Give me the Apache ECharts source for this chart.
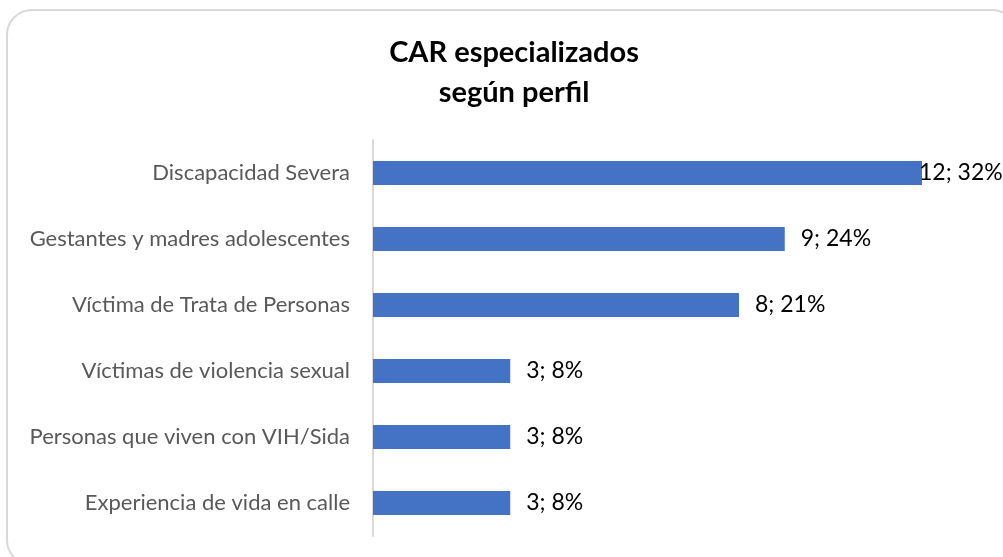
<!DOCTYPE html>
<html>
<head>
<meta charset="utf-8">
<script src="https://cdn.jsdelivr.net/npm/echarts@6/dist/echarts.min.js"></script>
<style>
  html, body { margin: 0; padding: 0; background: #fff; }
  #main { width: 1003px; height: 557px; }
</style>
</head>
<body>
<div id="main"></div>
<script>
var categories = [
    "Discapacidad Severa",
    "Gestantes y madres adolescentes",
    "Víctima de Trata de Personas",
    "Víctimas de violencia sexual",
    "Personas que viven con VIH/Sida",
    "Experiencia de vida en calle"
];
var counts = [12, 9, 8, 3, 3, 3];
var percents = [32, 24, 21, 8, 8, 8];

var myChart = echarts.init(document.getElementById('main'));

var barData = counts.map(function (v, i) {
    var item = { value: v };
    // the widest bar's label sits right on the bar end, as in the original
    if (i === 0) item.label = { distance: -3 };
    return item;
});

var option = {
    backgroundColor: "#fff",
    animation: false,
    title: {
        text: "CAR especializados\nsegún perfil",
        left: 509,
        top: 28,
        textAlign: "center",
        textStyle: {
            fontFamily: "Lato",
            fontWeight: "bold",
            fontSize: 29,
            lineHeight: 40,
            color: "#000"
        }
    },
    graphic: [{
        type: "rect",
        shape: { x: 7, y: 10, width: 1010, height: 555, r: 25 },
        style: { fill: "none", stroke: "#d9d9d9", lineWidth: 2 },
        silent: true
    }],
    grid: {
        left: 373,
        right: 81,
        top: 140,
        bottom: 21
    },
    xAxis: {
        type: "value",
        min: 0,
        max: 12,
        show: false
    },
    yAxis: {
        type: "category",
        inverse: true,
        data: categories,
        axisLine: { show: true, lineStyle: { color: "#d9d9d9", width: 2 } },
        axisTick: { show: false },
        axisLabel: {
            margin: 23,
            fontFamily: "Lato",
            fontSize: 22,
            color: "#595959"
        }
    },
    series: [{
        type: "bar",
        data: barData,
        barWidth: 24,
        itemStyle: { color: "#4472c4" },
        label: {
            show: true,
            position: "right",
            distance: 16,
            fontFamily: "Lato",
            fontSize: 23,
            color: "#000",
            formatter: function (p) {
                return counts[p.dataIndex] + "; " + percents[p.dataIndex] + "%";
            }
        }
    }]
};
myChart.setOption(option);
</script>
</body>
</html>
